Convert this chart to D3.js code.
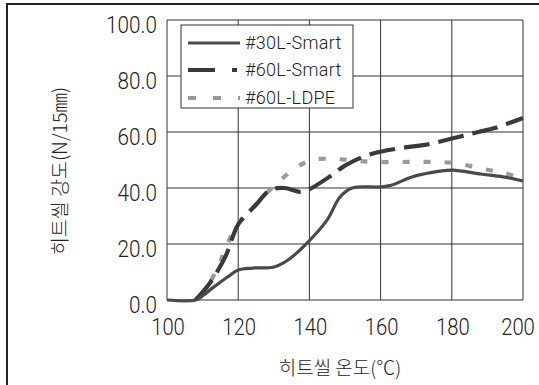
<!DOCTYPE html>
<html>
<head>
<meta charset="utf-8">
<script src="https://cdn.jsdelivr.net/npm/d3@7"></script>
<style>
  body { margin: 0; background: #fff; }
  svg { display: block; }
</style>
</head>
<body>
<div id="chart"></div>
<script>
// data
var temps30 = [100, 108, 110, 113, 117, 120, 124, 130, 134, 139.6, 145, 148.6, 152, 160, 163, 169, 176.7, 180.3, 188, 194.4, 200];
var vals30  = [0,   0,   1.5, 4.5, 8.2, 10.7, 11.4, 11.8, 14.3, 20.7, 28.6, 36.8, 40, 40.4, 41, 44, 46, 46.4, 45, 44, 42.5];

var temps60 = [108, 112, 116.6, 118.3, 120, 125, 129, 133, 137.4, 139.6, 146.3, 150, 157, 167.4, 172.5, 179.5, 187.4, 192, 200];
var vals60  = [0,   6,   16,    22,    27,  34,  39.3, 40, 38.6, 39.3, 44.6, 48, 52, 54.6, 55.4, 57.5, 60, 61.4, 65];

var tempsLD = [109.3, 114, 116.3, 119.7, 125.3, 129.8, 136, 140.7, 146.6, 151, 157.6, 167.7, 174.4, 181, 188, 194.4, 200];
var valsLD  = [0.7,   10.7, 17.9, 26.8, 34.6, 40.4, 47, 50, 50.4, 50, 49.3, 49.3, 49.3, 48.9, 47, 45.4, 43.5];

var seriesNames = ["#30L-Smart", "#60L-Smart", "#60L-LDPE"];
var xTicks = [100, 120, 140, 160, 180, 200];
var yTicks = [0, 20, 40, 60, 80, 100];

var W = 539, H = 385;
var plot = { left: 167, right: 523, top: 20, bottom: 300 };

var svg = d3.select("#chart").append("svg")
    .attr("width", W)
    .attr("height", H);

// outer frame (right / bottom edges fall outside the picture)
svg.append("rect")
    .attr("x", 7).attr("y", 4)
    .attr("width", 560).attr("height", 420)
    .attr("fill", "none")
    .attr("stroke", "#222")
    .attr("stroke-width", 2);

var x = d3.scaleLinear().domain([100, 200]).range([plot.left, plot.right]);
var y = d3.scaleLinear().domain([0, 100]).range([plot.bottom, plot.top]);

var sans = "Roboto, 'Liberation Sans', sans-serif";
var kfont = "'Noto Sans CJK KR', 'Noto Sans', sans-serif";

// grid
var grid = svg.append("g").attr("stroke", "#333").attr("stroke-width", 1);
xTicks.forEach(function(t) {
    grid.append("line")
        .attr("x1", x(t)).attr("x2", x(t))
        .attr("y1", plot.top).attr("y2", plot.bottom);
});
yTicks.forEach(function(t) {
    grid.append("line")
        .attr("x1", plot.left).attr("x2", plot.right)
        .attr("y1", y(t)).attr("y2", y(t));
});

// tick labels
svg.append("g").selectAll("text")
    .data(yTicks)
    .join("text")
    .attr("transform", d => "translate(" + (plot.left - 10) + "," + (y(d) + 5) + ") scale(0.9,1)")
    .attr("dy", "0.35em")
    .attr("text-anchor", "end")
    .style("font-family", sans)
    .style("font-weight", 300)
    .style("font-size", "23px")
    .style("fill", "#222")
    .text(d => d.toFixed(1));

// the last label is pulled in so it stays inside the frame
svg.append("g").selectAll("text")
    .data(xTicks)
    .join("text")
    .attr("transform", d => "translate(" + Math.min(x(d) + 1, 518) + ",335) scale(0.88,1)")
    .attr("text-anchor", "middle")
    .style("font-family", sans)
    .style("font-weight", 300)
    .style("font-size", "23px")
    .style("fill", "#222")
    .text(d => d);

// axis titles
svg.append("text")
    .attr("x", 340)
    .attr("y", 375)
    .attr("text-anchor", "middle")
    .style("font-family", kfont)
    .style("font-weight", 300)
    .style("font-size", "19px")
    .style("fill", "#222")
    .text("히트씰 온도(℃)");

svg.append("text")
    .attr("transform", "translate(67,171) rotate(-90)")
    .attr("text-anchor", "middle")
    .style("font-family", kfont)
    .style("font-weight", 300)
    .style("font-size", "19.5px")
    .style("fill", "#222")
    .text("히트씰 강도(N/15㎜)");

// lines
var line = d3.line()
    .x(d => x(d[0]))
    .y(d => y(d[1]))
    .curve(d3.curveCatmullRom);

var styles = [
    { color: "#4a4a4a", width: 3.2, dash: null },
    { color: "#3a3a3a", width: 4.2, dash: "26,9" },
    { color: "#9a9a9a", width: 4.2, dash: "7,14" }
];

var seriesData = [
    d3.zip(temps30, vals30),
    d3.zip(temps60, vals60),
    d3.zip(tempsLD, valsLD)
];

[2, 1, 0].forEach(function(i) {
    svg.append("path")
        .datum(seriesData[i])
        .attr("d", line)
        .attr("fill", "none")
        .attr("stroke", styles[i].color)
        .attr("stroke-width", styles[i].width)
        .attr("stroke-dasharray", styles[i].dash);
});

// legend
var lg = svg.append("g");
lg.append("rect")
    .attr("x", 181).attr("y", 25)
    .attr("width", 172).attr("height", 83)
    .attr("fill", "#fff")
    .attr("stroke", "#333")
    .attr("stroke-width", 1);

var legendDash = [null, "27,17,5,20", "8,17,8,17,2,20"];
var rowY = [43, 70, 98];
seriesNames.forEach(function(name, i) {
    lg.append("line")
        .attr("x1", 188).attr("x2", 240)
        .attr("y1", rowY[i]).attr("y2", rowY[i])
        .attr("stroke", styles[i].color)
        .attr("stroke-width", styles[i].width)
        .attr("stroke-dasharray", legendDash[i]);
    lg.append("text")
        .attr("x", 245)
        .attr("y", rowY[i] + 6)
        .style("font-family", sans)
        .style("font-weight", 300)
        .style("font-size", "18px")
        .style("letter-spacing", "0.3px")
        .style("fill", "#222")
        .text(name);
});
</script>
</body>
</html>
